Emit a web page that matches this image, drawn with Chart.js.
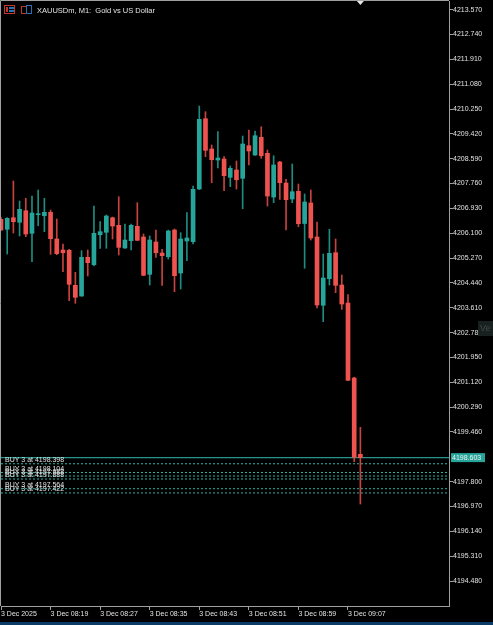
<!DOCTYPE html>
<html>
<head>
<meta charset="utf-8">
<script src="https://cdn.jsdelivr.net/npm/chart.js@4.4.1/dist/chart.umd.min.js"></script>
<style>
    html, body { margin: 0; padding: 0; background: #000; }
    #wrap { width: 493px; height: 625px; }
</style>
</head>
<body>
<div id="wrap"><canvas id="priceChart" width="493" height="625"></canvas></div>
<script>
// XAUUSDm M1, 3 Dec 08:11 - 09:09
const opens = [4206.565, 4206.231, 4206.618, 4206.465, 4206.852, 4206.097, 4206.719, 4206.685, 4206.799, 4205.907,
    4205.539, 4205.529, 4204.360, 4204.002, 4205.295, 4205.048, 4206.050, 4206.131, 4206.618, 4206.364,
    4205.606, 4205.850, 4206.331, 4205.974, 4204.727, 4205.807, 4205.439, 4205.315, 4206.207, 4204.771,
    4205.840, 4205.817, 4207.577, 4209.926, 4208.914, 4208.546, 4208.580, 4207.968, 4208.212, 4207.935,
    4209.024, 4208.713, 4209.305, 4208.770, 4207.310, 4208.479, 4207.778, 4207.243, 4207.500, 4206.425,
    4207.110, 4205.974, 4203.692, 4204.580, 4205.449, 4204.370, 4203.768, 4201.263, 4198.713];
const highs = [4206.620, 4206.620, 4207.845, 4207.176, 4207.267, 4207.343, 4207.544, 4207.267, 4206.876, 4206.575,
    4205.740, 4205.560, 4204.794, 4205.516, 4205.539, 4207.009, 4206.485, 4206.709, 4206.640, 4207.320,
    4206.408, 4206.408, 4207.120, 4206.074, 4206.007, 4206.207, 4205.563, 4206.207, 4206.241, 4206.117,
    4206.786, 4207.678, 4210.350, 4210.160, 4209.047, 4209.492, 4208.657, 4208.346, 4208.513, 4209.348,
    4209.549, 4209.515, 4209.659, 4208.880, 4208.690, 4208.500, 4207.901, 4208.413, 4207.744, 4207.410,
    4207.544, 4206.475, 4205.406, 4206.231, 4205.907, 4204.704, 4204.046, 4201.290, 4199.616];
const lows = [4206.190, 4205.406, 4206.107, 4206.007, 4205.984, 4205.148, 4206.351, 4206.151, 4205.395, 4205.382,
    4204.814, 4203.845, 4203.758, 4203.990, 4204.671, 4205.005, 4205.596, 4205.596, 4205.907, 4205.372,
    4205.590, 4205.539, 4205.850, 4204.680, 4204.370, 4205.295, 4204.360, 4205.239, 4204.146, 4204.236,
    4205.182, 4205.740, 4207.560, 4208.657, 4207.788, 4208.279, 4207.521, 4207.654, 4207.577, 4206.919,
    4208.379, 4208.700, 4208.603, 4207.009, 4207.120, 4207.233, 4206.207, 4207.120, 4206.318, 4204.928,
    4205.873, 4203.601, 4203.144, 4204.370, 4204.113, 4203.558, 4201.170, 4198.466, 4197.053];
const closes = [4206.207, 4206.598, 4206.485, 4206.899, 4206.074, 4206.775, 4206.752, 4206.799, 4205.917, 4205.416,
    4205.449, 4204.393, 4203.959, 4205.295, 4205.115, 4206.097, 4206.151, 4206.675, 4206.341, 4205.629,
    4205.873, 4206.364, 4205.863, 4204.694, 4205.873, 4205.449, 4205.349, 4206.174, 4204.681, 4205.907,
    4205.940, 4207.567, 4209.906, 4208.870, 4208.556, 4208.613, 4208.022, 4208.269, 4207.888, 4209.081,
    4208.847, 4209.358, 4208.690, 4207.343, 4208.379, 4207.788, 4207.220, 4207.487, 4206.418, 4207.143,
    4205.940, 4203.702, 4204.604, 4205.429, 4204.360, 4203.735, 4201.186, 4198.613, 4198.603];

const yTicks = [4213.570, 4212.740, 4211.910, 4211.080, 4210.250, 4209.420, 4208.590, 4207.760, 4206.930, 4206.100,
    4205.270, 4204.440, 4203.610, 4202.780, 4201.950, 4201.120, 4200.290, 4199.460, 4197.800, 4196.970,
    4196.140, 4195.310, 4194.480];
const xTickIdx = [0, 8, 16, 24, 32, 40, 48, 56];
const xTickLabels = ['3 Dec 2025', '3 Dec 08:19', '3 Dec 08:27', '3 Dec 08:35', '3 Dec 08:43', '3 Dec 08:51', '3 Dec 08:59', '3 Dec 09:07'];

const bidPrice = 4198.603;
const orderPrices = [4198.398, 4198.104, 4197.988, 4197.888, 4197.564, 4197.422];
const orderLabels = ['BUY 3 at 4198.398', 'BUY 3 at 4198.104', 'BUY 3 at 4197.988', 'BUY 3 at 4197.888', 'BUY 3 at 4197.564', 'BUY 3 at 4197.422'];

const UP = '#26a69a';
const DOWN = '#ef5350';
const UP_WICK = '#1f8c82';
const DOWN_WICK = '#c8433f';
const FRAME = '#a0a0a0';
const TEXT = '#e2e2e2';
const FONT = "'Liberation Sans', Arial, sans-serif";
const X_MIN = 0;
const X_MAX = 72.3;

const isUp = i => closes[i] >= opens[i];

const bodies = opens.map((o, i) => ({ x: i, y: [o, closes[i]] }));
const wicks = lows.map((l, i) => ({ x: i, y: [l, highs[i]] }));

const datasets = [
    {
        type: 'bar',
        data: bodies,
        grouped: false,
        barThickness: 4,
        backgroundColor: ctx => isUp(ctx.dataIndex) ? UP : DOWN,
        borderWidth: 0
    },
    {
        type: 'bar',
        data: wicks,
        grouped: false,
        barThickness: 1,
        backgroundColor: ctx => isUp(ctx.dataIndex) ? UP_WICK : DOWN_WICK,
        borderWidth: 0
    },
    {
        type: 'line',
        data: [{ x: X_MIN, y: bidPrice }, { x: X_MAX, y: bidPrice }],
        borderColor: '#23968b',
        borderWidth: 1.2,
        pointRadius: 0
    }
];
orderPrices.forEach(p => {
    datasets.push({
        type: 'line',
        data: [{ x: X_MIN, y: p }, { x: X_MAX, y: p }],
        borderColor: '#2db3a6',
        borderWidth: 1,
        borderDash: [2, 2],
        pointRadius: 0
    });
});

const decor = {
    id: 'decor',
    beforeDraw(chart) {
        const { ctx, width, height, chartArea: a } = chart;
        ctx.save();
        ctx.fillStyle = '#000';
        ctx.fillRect(0, 0, width, height);
        ctx.fillStyle = '#0b3c68';
        ctx.fillRect(0, height - 3, width, 3);
        ctx.strokeStyle = FRAME;
        ctx.lineWidth = 1;
        ctx.beginPath();
        ctx.moveTo(a.left - 0.5, a.bottom);
        ctx.lineTo(a.left - 0.5, a.top - 0.5);
        ctx.lineTo(a.right, a.top - 0.5);
        ctx.stroke();
        ctx.restore();
    },
    afterDraw(chart) {
        const { ctx, chartArea: a } = chart;
        const y = chart.scales.y;
        const x = chart.scales.x;
        ctx.save();

        // order labels
        ctx.font = '7px ' + FONT;
        ctx.fillStyle = TEXT;
        ctx.textBaseline = 'alphabetic';
        ctx.textAlign = 'left';
        orderPrices.forEach((p, i) => {
            ctx.fillText(orderLabels[i], a.left + 4, y.getPixelForValue(p) - 2);
        });

        // bid price box
        const by = y.getPixelForValue(bidPrice);
        ctx.fillStyle = UP;
        ctx.fillRect(a.right + 2, by - 4.5, 34, 9);
        ctx.fillStyle = '#eeeeee';
        ctx.textBaseline = 'middle';
        ctx.fillText(bidPrice.toFixed(3), a.right + 3, by + 0.5);

        // side tab
        ctx.fillStyle = '#182020';
        ctx.fillRect(478, 321, 15, 15);
        ctx.fillStyle = '#3e4a4a';
        ctx.font = '9px ' + FONT;
        ctx.fillText('Ve', 480, 329);

        // shift marker
        const sx = x.getPixelForValue(opens.length - 1);
        ctx.fillStyle = '#e6e6e6';
        ctx.beginPath();
        ctx.moveTo(sx - 3.5, a.top);
        ctx.lineTo(sx + 3.5, a.top);
        ctx.lineTo(sx, a.top + 4);
        ctx.closePath();
        ctx.fill();

        // title + icons
        ctx.strokeStyle = '#c0392b';
        ctx.strokeRect(4.5, 5.5, 10, 8);
        ctx.fillStyle = '#2f6fb5';
        ctx.fillRect(9, 7, 5, 2);
        ctx.fillRect(9, 10, 5, 2);
        ctx.fillStyle = '#c0392b';
        ctx.fillRect(6, 7, 2, 5);
        ctx.strokeStyle = '#c0392b';
        ctx.strokeRect(21.5, 6.5, 5, 7);
        ctx.strokeStyle = '#2f6fb5';
        ctx.strokeRect(26.5, 5.5, 5, 8);
        ctx.fillStyle = TEXT;
        ctx.font = '7.5px ' + FONT;
        ctx.textBaseline = 'alphabetic';
        ctx.fillText('XAUUSDm, M1:  Gold vs US Dollar', 37, 13);
        ctx.restore();
    }
};

new Chart(document.getElementById('priceChart').getContext('2d'), {
    type: 'bar',
    data: { datasets: datasets },
    options: {
        responsive: false,
        maintainAspectRatio: false,
        animation: false,
        layout: { padding: { left: 1, top: 1, right: 0, bottom: 3 } },
        plugins: {
            legend: { display: false },
            tooltip: { enabled: false }
        },
        scales: {
            x: {
                type: 'linear',
                min: X_MIN,
                max: X_MAX,
                offset: false,
                grid: { offset: false, drawOnChartArea: false, tickLength: 4, color: FRAME },
                border: { color: FRAME },
                afterBuildTicks: s => { s.ticks = xTickIdx.map(v => ({ value: v })); },
                afterFit: s => { s.height = 16; s.paddingLeft = 0; s.paddingRight = 0; },
                ticks: {
                    autoSkip: false,
                    maxRotation: 0,
                    align: 'start',
                    padding: 0,
                    color: TEXT,
                    font: { family: FONT, size: 7 },
                    callback: (v, i) => xTickLabels[i]
                }
            },
            y: {
                type: 'linear',
                position: 'right',
                min: 4193.645,
                max: 4213.859,
                grid: { drawOnChartArea: false, tickLength: 4, color: FRAME },
                border: { color: FRAME },
                afterBuildTicks: s => { s.ticks = yTicks.map(v => ({ value: v })); },
                afterFit: s => { s.width = 44; s.paddingTop = 0; s.paddingBottom = 0; },
                ticks: {
                    padding: 0,
                    color: TEXT,
                    font: { family: FONT, size: 7 },
                    callback: v => v.toFixed(3)
                }
            }
        }
    },
    plugins: [decor]
});
</script>
</body>
</html>
